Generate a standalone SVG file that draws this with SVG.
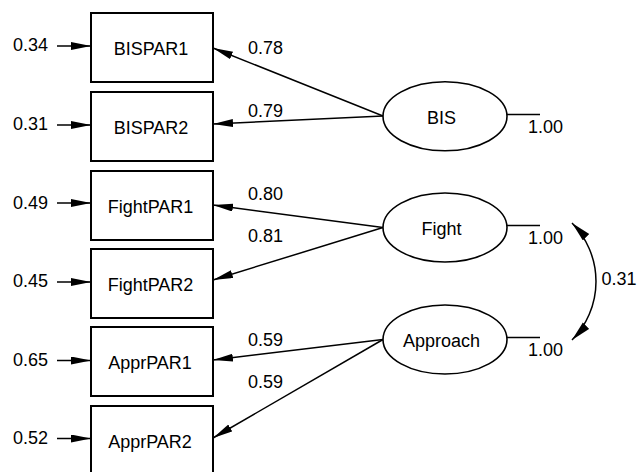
<svg xmlns="http://www.w3.org/2000/svg" width="637" height="472" viewBox="0 0 637 472">
  <style>
    text { font-family: "Liberation Sans", Arial, sans-serif; font-size: 18px; fill: #000; }
    .mid { text-anchor: middle; }
    .box { fill: #fff; stroke: #000; stroke-width: 2; }
    .lat { fill: #fff; stroke: #000; stroke-width: 1.6; }
    .edge { fill: none; stroke: #000; stroke-width: 1.5; }
    .arr { marker-end: url(#head); }
  </style>
  <defs>
    <marker id="head" markerUnits="userSpaceOnUse" markerWidth="22" markerHeight="10" refX="20" refY="4" orient="auto">
      <path d="M0,0 L20,4 L0,8 Z" fill="#000"/>
    </marker>
    <marker id="headWide" markerUnits="userSpaceOnUse" markerWidth="22" markerHeight="10" refX="20" refY="4.5" orient="auto">
      <path d="M0,0 L20,4.5 L0,9 Z" fill="#000"/>
    </marker>
    <marker id="headWideStart" markerUnits="userSpaceOnUse" markerWidth="22" markerHeight="10" refX="20" refY="4.5" orient="auto-start-reverse">
      <path d="M0,0 L20,4.5 L0,9 Z" fill="#000"/>
    </marker>
  </defs>

  <rect width="637" height="472" fill="#fff"/>

  <!-- connectors: error terms, loadings, variances, covariance -->
  <g id="connectors">
    <line class="edge arr" x1="57" y1="46" x2="91" y2="46"/>
    <line class="edge arr" x1="57" y1="125" x2="91" y2="125"/>
    <line class="edge arr" x1="57" y1="203" x2="91" y2="203"/>
    <line class="edge arr" x1="57" y1="282" x2="91" y2="282"/>
    <line class="edge arr" x1="57" y1="360.5" x2="91" y2="360.5"/>
    <line class="edge arr" x1="57" y1="438.5" x2="91" y2="438.5"/>

    <line class="edge arr" x1="383" y1="116" x2="213" y2="48"/>
    <line class="edge arr" x1="383" y1="116" x2="213" y2="124"/>
    <line class="edge arr" x1="383" y1="227.5" x2="213" y2="205"/>
    <line class="edge arr" x1="383" y1="227.5" x2="213" y2="280"/>
    <line class="edge arr" x1="383" y1="339.5" x2="213" y2="360"/>
    <line class="edge arr" x1="383" y1="339.5" x2="213" y2="438"/>

    <line class="edge" x1="507" y1="114.5" x2="540" y2="114.5"/>
    <line class="edge" x1="507" y1="225.5" x2="540" y2="225.5"/>
    <line class="edge" x1="507" y1="337.5" x2="540" y2="337.5"/>

    <path class="edge" d="M572,223 A83.3,83.3 0 0 1 572,340" marker-start="url(#headWideStart)" marker-end="url(#headWide)"/>

    <text x="13" y="51">0.34</text>
    <text x="13" y="130">0.31</text>
    <text x="13" y="208.5">0.49</text>
    <text x="13" y="287">0.45</text>
    <text x="13" y="365.5">0.65</text>
    <text x="13" y="443.5">0.52</text>

    <text x="248" y="54">0.78</text>
    <text x="248" y="117">0.79</text>
    <text x="248" y="199.5">0.80</text>
    <text x="248" y="241.5">0.81</text>
    <text x="248" y="346">0.59</text>
    <text x="248" y="388">0.59</text>

    <text x="528" y="133">1.00</text>
    <text x="528" y="244">1.00</text>
    <text x="528" y="355.5">1.00</text>

    <text x="601.5" y="285">0.31</text>
  </g>

  <!-- observed indicators -->
  <g id="BISPAR1">
    <rect class="box" x="91" y="13" width="122" height="69"/>
    <text class="mid" x="151" y="55">BISPAR1</text>
  </g>
  <g id="BISPAR2">
    <rect class="box" x="91" y="92" width="122" height="69"/>
    <text class="mid" x="151" y="133.5">BISPAR2</text>
  </g>
  <g id="FightPAR1">
    <rect class="box" x="91" y="171" width="122" height="69"/>
    <text class="mid" x="150.5" y="212.5">FightPAR1</text>
  </g>
  <g id="FightPAR2">
    <rect class="box" x="91" y="249" width="122" height="69"/>
    <text class="mid" x="150.5" y="291">FightPAR2</text>
  </g>
  <g id="ApprPAR1">
    <rect class="box" x="91" y="327" width="122" height="69"/>
    <text class="mid" x="150" y="369">ApprPAR1</text>
  </g>
  <g id="ApprPAR2">
    <rect class="box" x="91" y="406" width="122" height="69"/>
    <text class="mid" x="150" y="447.5">ApprPAR2</text>
  </g>

  <!-- latent factors -->
  <g id="BIS">
    <ellipse class="lat" cx="445" cy="116.3" rx="62" ry="34.5"/>
    <text class="mid" x="441.5" y="124">BIS</text>
  </g>
  <g id="Fight">
    <ellipse class="lat" cx="445" cy="227.5" rx="62" ry="34.5"/>
    <text class="mid" x="441.5" y="235">Fight</text>
  </g>
  <g id="Approach">
    <ellipse class="lat" cx="445" cy="339.5" rx="62" ry="34.5"/>
    <text class="mid" x="441.5" y="347">Approach</text>
  </g>
</svg>
